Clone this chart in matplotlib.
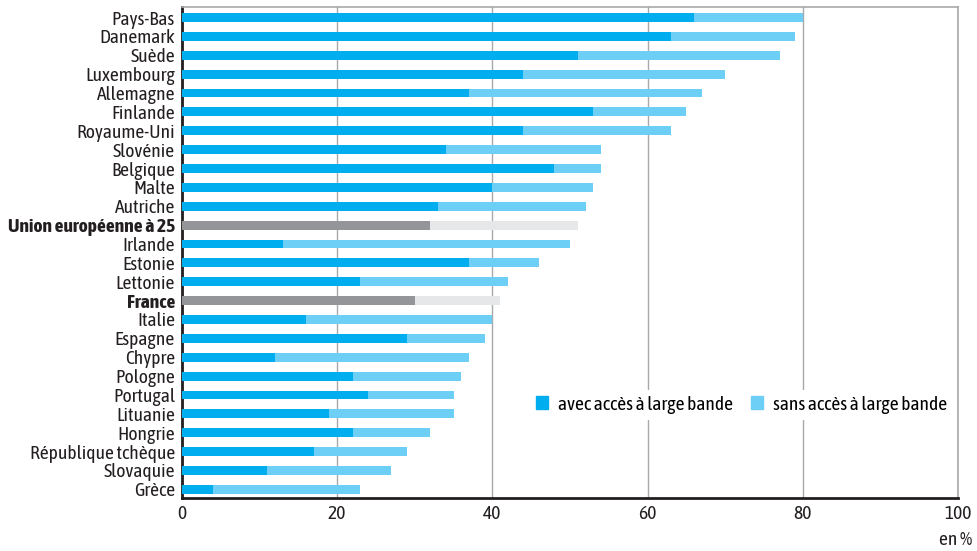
import matplotlib.pyplot as plt
import numpy as np
from matplotlib.patches import Patch
from matplotlib import font_manager

# pick a narrow font that also has a bold face
polices = font_manager.fontManager.ttflist
def est_etroit(f):
    return "Narrow" in f.name or "Condensed" in f.name
gras = {f.name for f in polices if est_etroit(f) and
        (f.weight in ("bold", "semibold") or
         (isinstance(f.weight, int) and f.weight >= 600))}
normaux = {f.name for f in polices if est_etroit(f)}
choix = sorted(gras & normaux) or sorted(normaux)
plt.rcParams['font.family'] = choix[:1] + ['DejaVu Sans']
plt.rcParams['font.stretch'] = 'condensed'

# Data (en % des ménages)
pays = ["Pays-Bas", "Danemark", "Suède", "Luxembourg", "Allemagne", "Finlande",
        "Royaume-Uni", "Slovénie", "Belgique", "Malte", "Autriche",
        "Union européenne à 25", "Irlande", "Estonie", "Lettonie", "France",
        "Italie", "Espagne", "Chypre", "Pologne", "Portugal", "Lituanie",
        "Hongrie", "République tchèque", "Slovaquie", "Grèce"]
avec = [66, 63, 51, 44, 37, 53, 44, 34, 48, 40, 33, 32, 13, 37, 23, 30,
        16, 29, 12, 22, 24, 19, 22, 17, 11, 4]
total = [80, 79, 77, 70, 67, 65, 63, 54, 54, 53, 52, 51, 50, 46, 42, 41,
         40, 39, 37, 36, 35, 35, 32, 29, 27, 23]
mis_en_avant = ["Union européenne à 25", "France"]

sans = [t - a for t, a in zip(total, avec)]

bleu = "#00aeef"
bleu_clair = "#6dcff6"
gris = "#939598"
gris_clair = "#e6e7e8"

fig = plt.figure(figsize=(9.78, 5.51), dpi=100)
ax = fig.add_axes([0.186, 0.0962, 0.7936, 0.8911])

y = np.arange(len(pays))
c1 = [gris if p in mis_en_avant else bleu for p in pays]
c2 = [gris_clair if p in mis_en_avant else bleu_clair for p in pays]
ax.barh(y, avec, height=0.47, color=c1, zorder=3)
ax.barh(y, sans, left=avec, height=0.47, color=c2, zorder=3)

ax.set_xlim(0, 100)
ax.set_ylim(len(pays) - 0.54, -0.56)
ax.set_xticks([0, 20, 40, 60, 80, 100])
ax.set_yticks(y)
ax.set_yticklabels(pays)
ax.tick_params(axis="both", length=0, labelsize=14, colors="#231f20")
ax.tick_params(axis="y", pad=5)
ax.tick_params(axis="x", pad=5)
for lab in ax.get_yticklabels():
    if lab.get_text() in mis_en_avant:
        lab.set_fontweight("bold")

ax.grid(axis="x", color="#a7a9ac", linewidth=1, zorder=0)
for s in ["left", "bottom"]:
    ax.spines[s].set_color("#231f20")
    ax.spines[s].set_linewidth(2)
for s in ["top", "right"]:
    ax.spines[s].set_color("#a7a9ac")
    ax.spines[s].set_linewidth(1.2)

handles = [Patch(color=bleu, label="avec accès à large bande"),
           Patch(color=bleu_clair, label="sans accès à large bande")]
leg = ax.legend(handles=handles, ncol=2, loc="center right",
                bbox_to_anchor=(1.006, 0.19), frameon=True, framealpha=1,
                edgecolor="none", fontsize=14, handlelength=0.65,
                handleheight=0.65, handletextpad=0.5, columnspacing=0.9,
                borderpad=0.3)
leg.get_frame().set_linewidth(0)

fig.text(0.994, 0.003, "en %", ha="right", va="bottom", fontsize=14,
         color="#231f20")

fig.savefig("out.png", dpi=100)
